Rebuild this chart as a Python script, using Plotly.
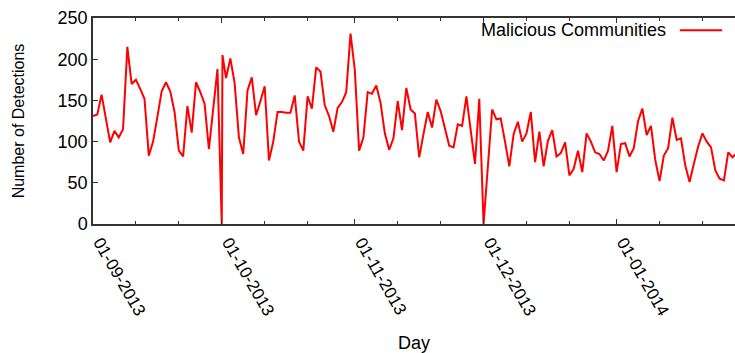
import pandas as pd
import plotly.graph_objects as go

# Daily detections from 2013-09-01 (one extra reading on 2013-10-01 04:00)
start_date = "2013-09-01"
values = [
    131, 133, 157, 128, 99, 113, 105, 115, 215, 170,
    175, 164, 152, 83, 100, 130, 161, 172, 161, 136,
    89, 82, 143, 111, 172, 160, 146, 91, 138, 188,
    0, 177, 201, 171, 105, 85, 162, 178, 132, 149,
    167, 77, 100, 136, 136, 135, 135, 156, 100, 89,
    155, 140, 190, 185, 144, 131, 112, 141, 148, 160,
    231, 187, 89, 105, 160, 158, 168, 147, 110, 90,
    104, 149, 114, 165, 139, 134, 81, 109, 136, 117,
    151, 137, 116, 95, 93, 121, 119, 155, 114, 73,
    152, 0, 70, 139, 127, 128, 100, 70, 109, 124,
    100, 110, 136, 75, 112, 70, 101, 114, 82, 86,
    99, 59, 67, 89, 63, 110, 100, 87, 85, 77,
    89, 119, 63, 97, 98, 82, 92, 125, 140, 108,
    119, 78, 52, 83, 92, 129, 102, 104, 71, 51,
    73, 94, 110, 100, 93, 65, 55, 53, 87, 81, 86,
]
extra_time = "2013-10-01 04:00"
extra_value = 205

tick_vals = ["2013-09-01", "2013-10-01", "2013-11-01", "2013-12-01", "2014-01-01"]
tick_text = ["01-09-2013", "01-10-2013", "01-11-2013", "01-12-2013", "01-01-2014"]
minor_vals = ["2013-09-11", "2013-09-21", "2013-10-11", "2013-10-21",
              "2013-11-11", "2013-11-21", "2013-12-11", "2013-12-21",
              "2014-01-11", "2014-01-21"]

dates = list(pd.date_range(start_date, periods=len(values), freq="D"))
series = pd.Series(values, index=dates)
series.loc[pd.Timestamp(extra_time)] = extra_value
series = series.sort_index()

FONT = "Liberation Sans, Arial, sans-serif"
AX = "#333333"

fig = go.Figure()
fig.add_trace(go.Scatter(
    x=series.index, y=series.values, mode="lines",
    line=dict(color="#ff0000", width=2), name="Malicious Communities",
    showlegend=False,
))

fig.update_layout(
    width=735, height=353,
    margin=dict(l=93, r=0, t=18, b=129, autoexpand=False),
    paper_bgcolor="white", plot_bgcolor="white",
    font=dict(family=FONT, size=17, color="black"),
    xaxis=dict(
        type="date", automargin=False,
        range=["2013-09-01", "2014-01-28 14:00"],
        tickmode="array", tickvals=tick_vals, ticktext=tick_text,
        tickangle=60, ticklabelshift=7,
        ticks="inside", ticklen=5, tickwidth=1, tickcolor=AX,
        minor=dict(tickmode="array", tickvals=minor_vals, ticks="inside",
                   ticklen=3, tickcolor=AX, showgrid=False),
        showline=True, linecolor=AX, linewidth=1.5, mirror="ticks",
        showgrid=False, zeroline=False,
        title=dict(text="Day", standoff=22, font=dict(size=18)),
        tickfont=dict(size=17),
    ),
    yaxis=dict(
        automargin=False,
        range=[0, 250], tickmode="array", tickvals=[0, 50, 100, 150, 200, 250],
        ticks="inside", ticklen=5, tickwidth=1, tickcolor=AX,
        showline=True, linecolor=AX, linewidth=1.5, mirror=False,
        showgrid=False, zeroline=False,
        title=dict(text="Number of Detections", standoff=29, font=dict(size=16)),
        tickfont=dict(size=18),
    ),
)

# gnuplot-style key: text followed by line sample
fig.add_annotation(x=0.8956, y=0.940, xref="paper", yref="paper",
                   text="Malicious Communities", showarrow=False,
                   xanchor="right", yanchor="middle", font=dict(size=18))
fig.add_shape(type="line", xref="paper", yref="paper",
              x0=0.914, x1=0.980, y0=0.940, y1=0.940,
              line=dict(color="#ff0000", width=2))

fig.write_html("out.html", config={"displayModeBar": False},
               post_script="document.body.style.margin='0';document.body.style.overflow='hidden';")
